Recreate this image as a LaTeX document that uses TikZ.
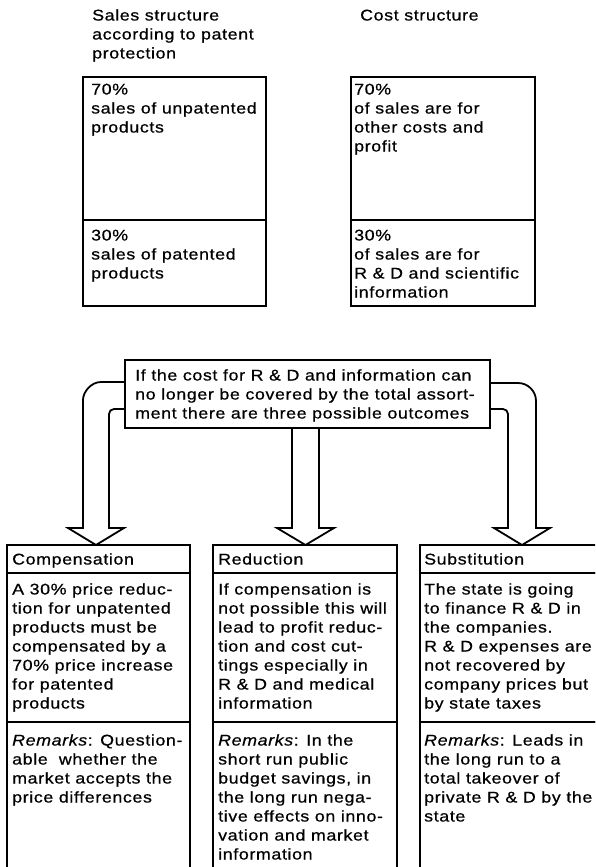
\documentclass[tikz,border=0pt]{standalone}
\usepackage{fontspec}
\setmainfont{Liberation Sans}[FakeStretch=1.15,LetterSpace=4,FakeBold=0.6]
\usetikzlibrary{calc}
\newcommand\diagfont{\fontsize{15.5}{19}\selectfont}
\begin{document}
\begin{tikzpicture}[x=1pt,y=-1pt,
  panel/.style={draw, line width=1.8pt, anchor=north west, inner sep=0pt, outer sep=0pt},
  txt/.style={anchor=north west, inner sep=0pt, align=left, font=\diagfont},
  blockarrow/.style={draw, line width=1.8pt, line join=miter}]
\clip (0,0) rectangle (595,867);
\fill[white] (0,0) rectangle (595,867);

% column titles
\node[txt] (salesTitle) at (92,7) {\strut Sales structure\\according to patent\\protection};
\node[txt] (costTitle) at (360,7) {\strut Cost structure};

% sales structure
\node[panel, minimum width=183pt, minimum height=143pt] (salesHi) at (83,77) {};
\node[panel, minimum width=183pt, minimum height=86pt] (salesLo) at (salesHi.south west) {};
\node[txt] (salesHiTxt) at (91,81) {\strut 70\%\\sales of unpatented\\products};
\node[txt] (salesLoTxt) at (91,227) {\strut 30\%\\sales of patented\\products};

% cost structure
\node[panel, minimum width=184pt, minimum height=143pt] (costHi) at (351,77) {};
\node[panel, minimum width=184pt, minimum height=86pt] (costLo) at (costHi.south west) {};
\node[txt] (costHiTxt) at (354,81) {\strut 70\%\\of sales are for\\other costs and\\profit};
\node[txt] (costLoTxt) at (354,227) {\strut 30\%\\of sales are for\\R \& D and scientific\\information};

% central question
\node[panel, minimum width=365pt, minimum height=68pt] (banner) at (125,360) {};
\node[txt] (bannerTxt) at (135,367) {\strut If the cost for R \& D and information can\\no longer be covered by the total assort-\\ment there are three possible outcomes};

% outcome columns
\foreach \name/\x/\w in {comp/7/183, red/213/184, subst/420/185} {
  \node[panel, minimum width=\w pt, minimum height=28pt] (\name Head) at (\x,545) {};
  \node[panel, minimum width=\w pt, minimum height=149pt] (\name Body) at (\name Head.south west) {};
  \node[panel, minimum width=\w pt, minimum height=160pt] (\name Rem) at (\name Body.south west) {};
}

\node[txt] (compHeadTxt) at (12,551) {\strut Compensation};
\node[txt] (compBodyTxt) at (12,581) {\strut A 30\% price reduc-\\tion for unpatented\\products must be\\compensated by a\\70\% price increase\\for patented\\products};
\node[txt] (compRemTxt) at (12,732) {\strut\textit{Remarks}: Question-\\able\ \ whether the\\market accepts the\\price differences};

\node[txt] (redHeadTxt) at (218,551) {\strut Reduction};
\node[txt] (redBodyTxt) at (218,581) {\strut If compensation is\\not possible this will\\lead to profit reduc-\\tion and cost cut-\\tings especially in\\R \& D and medical\\information};
\node[txt] (redRemTxt) at (218,732) {\strut\textit{Remarks}: In the\\short run public\\budget savings, in\\the long run nega-\\tive effects on inno-\\vation and market\\information};

\node[txt] (substHeadTxt) at (424,551) {\strut Substitution};
\node[txt] (substBodyTxt) at (424,581) {\strut The state is going\\to finance R \& D in\\the companies.\\R \& D expenses are\\not recovered by\\company prices but\\by state taxes};
\node[txt] (substRemTxt) at (424,732) {\strut\textit{Remarks}: Leads in\\the long run to a\\total takeover of\\private R \& D by the\\state};

% block arrows from the question to the three outcomes
\draw[blockarrow] (banner.west |- 0,382) -- (101,382)
  .. controls (91.06,382) and (83,391.94) .. (83,400) -- (83,528) -- (68,528)
  -- (compHead.north -| 96,0) -- (124,528) -- (109,528) -- (109,414)
  .. controls (109,411.24) and (111.24,409) .. (114,409) -- (banner.west |- 0,409);

\draw[blockarrow] (banner.south -| 292,0) -- (292,528) -- (277,528)
  -- (redHead.north -| 305.5,0) -- (334,528) -- (319,528) -- (banner.south -| 319,0);

\draw[blockarrow] (banner.east |- 0,383) -- (518,383)
  .. controls (527.94,383) and (536,391.06) .. (536,401) -- (536,528) -- (550,528)
  -- (substHead.north -| 522,0) -- (494,528) -- (508,528) -- (508,414)
  .. controls (508,411.24) and (505.76,409) .. (503,409) -- (banner.east |- 0,409);
\end{tikzpicture}
\end{document}
